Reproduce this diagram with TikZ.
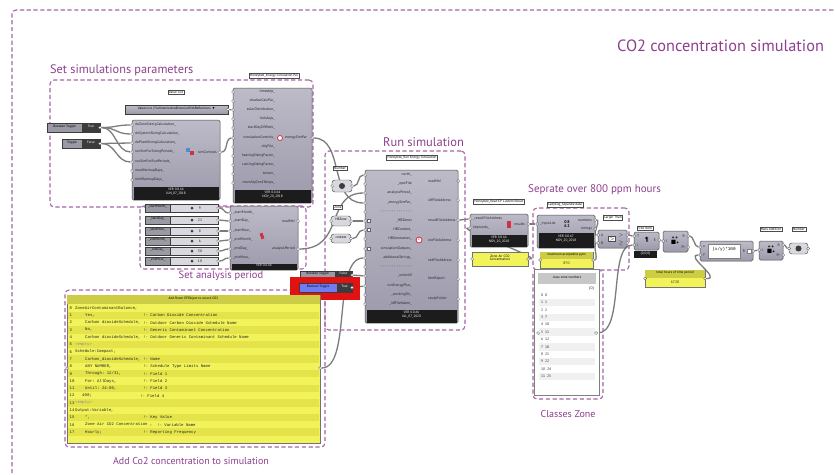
\documentclass[tikz,border=0pt]{standalone}
\usepackage{amssymb}
\usepackage{fontspec}
\setmainfont{PT Sans}
\setmonofont{Liberation Mono}
\usetikzlibrary{fit,calc}
\pgfdeclarelayer{bg}
\pgfsetlayers{bg,main}
\definecolor{grpc}{HTML}{A566A5}
\definecolor{titc}{HTML}{8E3F8E}
\definecolor{bodyt}{HTML}{BDBBC8}
\definecolor{bodyb}{HTML}{9C9AAB}
\definecolor{footc}{HTML}{1C1C1C}
\definecolor{yel}{HTML}{F2F25A}
\definecolor{yels}{HTML}{E4E44A}
\definecolor{yelh}{HTML}{CDCD45}
\definecolor{wirec}{HTML}{7C7C7C}
\definecolor{darkp}{HTML}{3C3C3C}
\definecolor{sldark}{HTML}{9A9AA4}
\definecolor{sllight}{HTML}{D8D8DE}
\definecolor{bluet}{HTML}{6F7CF2}
\definecolor{redb}{HTML}{E31212}
\definecolor{iconr}{HTML}{D03040}
\definecolor{iconb}{HTML}{4A8FD0}
\newcommand{\tyf}{\fontsize{3.7}{4.2}\selectfont}
\newcommand{\tgf}{\fontsize{3.4}{3.9}\selectfont}
\tikzset{
  grp/.style={draw=grpc, line width=1.1pt, dash pattern=on 4.2pt off 2.6pt, rounded corners=4pt, inner sep=0},
  glbl/.style={text=titc, inner sep=0, font=\fontsize{#1}{#1}\selectfont},
  comp/.style={draw=black!70, line width=0.5pt, top color=bodyt, bottom color=bodyb, rounded corners=1.5pt, inner sep=0},
  foot/.style={fill=footc, inner sep=0, text=white, font=\tgf, align=center},
  itx/.style={inner sep=0, font=\tyf, text=black!85},
  port/.style={circle, inner sep=0, minimum size=3pt, fill=white, draw=black!65, line width=0.35pt},
  tagb/.style={draw=black!70, fill=white, line width=0.4pt, inner sep=0.9pt, font=\tgf},
  wire/.style={draw=wirec, line width=1.3pt},
  tglL/.style={draw=darkp, line width=0.4pt, inner sep=0, font=\tgf},
  tglR/.style={fill=darkp, draw=darkp, line width=0.4pt, inner sep=0, font=\tgf, text=white},
  panel/.style={fill=yel, draw=black!55, line width=0.4pt, inner sep=0},
  panelh/.style={fill=yelh, inner sep=0, font=\tgf},
  capsule/.style={draw=black!70, fill=sllight, rounded corners=3pt, line width=0.45pt, inner sep=0, font=\tgf},
  bpt/.style={inner sep=0, font=\ttfamily\fontsize{4}{4.4}\selectfont, text=black!85},
  icn/.style={inner sep=0, minimum size=5pt},
}
\newcommand{\ghinL}[5]{\node[port] (#1-i#2) at (#3,#4) {};\node[itx,anchor=west] (#1-t#2) at (#3+3,#4) {#5};}
\newcommand{\ghinR}[6]{\node[port] (#1-i#2) at (#3,#5) {};\node[itx,anchor=east] (#1-t#2) at (#4,#5) {#6};}
\newcommand{\ghoutL}[5]{\node[port] (#1-o#2) at (#3,#4) {};\node[itx,anchor=east] (#1-u#2) at (#3-3,#4) {#5};}
\newcommand{\ghoutW}[6]{\node[port] (#1-o#2) at (#3,#5) {};\node[itx,anchor=west] (#1-u#2) at (#4,#5) {#6};}
\newcommand{\ghtoggle}[9]{%
  \node[tglL, fill=#9, fit={(#2,#5)(#3,#6)}] (#1-l) {#7};
  \node[tglR, fit={(#3,#5)(#4,#6)}] (#1) {#8};
  \node[port] (#1-o) at (#4,{(#5+#6)/2}) {};}
\newcommand{\ghslider}[4]{%
  \node[tglL, fill=sldark, fit={(145,#2-4)(170,#2+4)}] (#1-l) {#3};
  \node[tglL, fill=sllight, fit={(170,#2-4)(218,#2+4)}] (#1) {};
  \node[itx] (#1-v) at (200,#2) {#4};
  \node[circle, fill=darkp, inner sep=0, minimum size=3pt] (#1-k) at (192,#2) {};
  \node[port] (#1-o) at (218,#2) {};}
\newcommand{\bpl}[5]{%
  \node[bpt, anchor=west] (bp-n#1) at (69.5,{308+7.3*#1}) {#1};
  \node[bpt, anchor=west] (bp-a#1) at (#2,{308+7.3*#1}) {#3};
  \node[bpt, anchor=west] (bp-c#1) at (#4,{308+7.3*#1}) {#5};}
\begin{document}
\begin{tikzpicture}[x=1pt,y=-1pt]
\useasboundingbox (0,0) rectangle (835,474);
\begin{pgfonlayer}{bg}
\fill[white] (0,0) rectangle (835,474);
\end{pgfonlayer}
% outer frame
\draw[grp] (12,480) -- (12,10) -- (845,10);
\node[glbl=16.3, anchor=west] (title) at (617,46) {CO2 concentration simulation};

% groups
\node[grp, fit={(50,80)(313,207)}] (g1) {};
\node[grp, fit={(140,206)(306,269)}] (g2) {};
\node[grp, fit={(325,151)(465,330)}] (g3) {};
\node[grp, fit={(533,208)(629,270)}] (g4) {};
\node[grp, fit={(533,270)(603,399)}] (g5) {};
\node[grp, fit={(65,290)(325,447)}] (g6) {};
\node[glbl=12.3, anchor=west] (l1) at (50,70) {Set simulations parameters};
\node[glbl=10.5] (l2) at (221,276) {Set analysis period};
\node[glbl=12.5, anchor=west] (l3) at (383,142) {Run simulation};
\node[glbl=11, anchor=west] (l4) at (528,190) {Seprate over 800 ppm hours};
\node[glbl=10] (l5) at (568,414) {Classes Zone};
\node[glbl=10] (l6) at (191,461) {Add Co2 concentration to simulation};

% ---- Set simulation parameters
\ghtoggle{bt1}{47}{82}{100}{123}{132}{Boolean Toggle}{True}{sldark}
\ghtoggle{bt2}{62}{82}{100}{139}{148}{Toggle}{False}{sldark}
\node[tagb] (vl-tag) at (176,92) {Value List};
\node[tglL, top color=bodyt, bottom color=sldark, fit={(125,105)(228,114)}] (vl) {Value List | FullInteriorAndExteriorWithReflections \,$\blacktriangledown$};
\node[port] (vl-o) at (228,109.5) {};

\node[comp, fit={(132,120)(220,200)}] (sc) {};
\node[foot, fit={(133.5,187)(218.5,199.5)}] (sc-f) {VER 0.0.64\\JUN\_07\_2018};
\ghinL{sc}{1}{132}{125}{doZoneSizingCalculation\_}
\ghinL{sc}{2}{132}{134}{doSystemSizingCalculation\_}
\ghinL{sc}{3}{132}{143}{doPlantSizingCalculation\_}
\ghinL{sc}{4}{132}{152}{runSimForSizingPeriods\_}
\ghinL{sc}{5}{132}{162}{runSimForRunPeriods\_}
\ghinL{sc}{6}{132}{171}{maxWarmupDays\_}
\ghinL{sc}{7}{132}{180}{minWarmupDays\_}
\ghoutL{sc}{1}{220}{152}{simControls}
\node[icn, fill=iconb, minimum size=4pt] (sc-ic1) at (188,150) {};
\node[icn, fill=iconr, minimum size=4pt] (sc-ic2) at (191.5,153) {};

\node[tagb] (esp-tag) at (274,76) {Honeybee\_Energy Simulation Par};
\node[comp, fit={(233,88)(312,203)}] (esp) {};
\node[foot, fit={(234.5,190)(310.5,202.5)}] (esp-f) {VER 0.0.64\\NOV\_20\_2018};
\ghinR{esp}{1}{233}{275}{92}{timestep\_}
\ghinR{esp}{2}{233}{275}{101}{shadowCalcPar\_}
\ghinR{esp}{3}{233}{275}{110}{solarDistribution\_}
\ghinR{esp}{4}{233}{275}{119}{holidays\_}
\ghinR{esp}{5}{233}{275}{128}{startDayOfWeek\_}
\ghinR{esp}{6}{233}{275}{138}{simulationControls\_}
\ghinR{esp}{7}{233}{275}{147}{ddyFile\_}
\ghinR{esp}{8}{233}{275}{156}{heatingSizingFactor\_}
\ghinR{esp}{9}{233}{275}{165}{coolingSizingFactor\_}
\ghinR{esp}{10}{233}{275}{174}{terrain\_}
\ghinR{esp}{11}{233}{275}{183}{monthlyGrndTemps\_}
\node[circle, draw=iconr, fill=white, line width=0.8pt, inner sep=0, minimum size=5pt] (esp-ic) at (280,138) {};
\ghoutW{esp}{1}{312}{285}{138}{energySimPar}

% ---- analysis period
\ghslider{s1}{208}{\_startMonth\_}{9}
\ghslider{s2}{220}{\_startDay\_}{21}
\ghslider{s3}{231}{\_startHour\_}{8}
\ghslider{s4}{241}{\_endMonth\_}{6}
\ghslider{s5}{251}{\_endDay\_}{30}
\ghslider{s6}{261}{\_endHour\_}{18}
\node[comp, fit={(230,206)(298,270)}] (ap) {};
\node[foot, fit={(231.5,264)(296.5,270)}] (ap-f) {VER 0.0.64};
\ghinL{ap}{1}{230}{213}{\_startMonth\_}
\ghinL{ap}{2}{230}{221}{\_startDay\_}
\ghinL{ap}{3}{230}{231}{\_startHour\_}
\ghinL{ap}{4}{230}{240}{\_endMonth\_}
\ghinL{ap}{5}{230}{249}{\_endDay\_}
\ghinL{ap}{6}{230}{258}{\_endHour\_}
\ghoutL{ap}{1}{298}{221}{readMe!}
\ghoutL{ap}{2}{298}{249}{analysisPeriod}
\node[icn, fill=iconr, minimum width=3pt, minimum height=6pt, rotate=20] (ap-ic) at (262,236) {};

% ---- run simulation
\node[tagb] (num1-tag) at (340,168) {Number};
\node[capsule, fit={(332,180)(352,192)}] (num1) {};
\node[circle, fill=darkp, inner sep=0, minimum size=6pt] (num1-ic) at (342,186) {};
\node[port] (num1-o) at (352,186) {};
\node[port] (num1-i) at (332,186) {};
\node[tagb] (hbz-tag) at (338,207) {Zone};
\node[capsule, fit={(331,216)(351,226)}] (hbz) {HBZone};
\node[port] (hbz-o) at (351,221) {};
\node[port] (hbz-i) at (331,221) {};
\node[capsule, fit={(331,234)(351,243)}] (ctx) {context};
\node[port] (ctx-o) at (351,238.5) {};
\node[port] (ctx-i) at (331,238.5) {};
\ghtoggle{bt3}{300}{335}{352}{271}{279}{Boolean Toggle}{False}{sldark}
\node[fill=redb, fit={(293,280)(357,297)}] (redbox) {};
\ghtoggle{bt4}{299}{337}{352}{283}{292}{Boolean Toggle}{True}{bluet}

\node[tagb] (rs-tag) at (412,158) {Honeybee\_Run Energy Simulation};
\node[comp, fit={(365,170)(458,323)}] (rs) {};
\node[foot, fit={(366.5,310)(456.5,322.5)}] (rs-f) {VER 0.0.66\\JUL\_07\_2020};
\ghinR{rs}{1}{365}{412}{175}{north\_}
\ghinR{rs}{2}{365}{412}{184}{\_epwFile}
\ghinR{rs}{3}{365}{412}{193}{analysisPeriod\_}
\ghinR{rs}{4}{365}{412}{203}{\_energySimPar\_}
\ghinR{rs}{5}{365}{412}{212}{- - - - - - - - - - - - - -}
\ghinR{rs}{6}{365}{412}{221}{\_HBZones}
\ghinR{rs}{7}{365}{412}{230}{HBContext\_}
\ghinR{rs}{8}{365}{412}{239}{HBGenerators\_}
\ghinR{rs}{9}{365}{412}{249}{simulationOutputs\_}
\ghinR{rs}{10}{365}{412}{258}{additionalStrings\_}
\ghinR{rs}{11}{365}{412}{267}{- - - - - - - - - - - - - -}
\ghinR{rs}{12}{365}{412}{276}{\_writeIdf}
\ghinR{rs}{13}{365}{412}{286}{runEnergyPlus\_}
\ghinR{rs}{14}{365}{412}{295}{\_workingDir\_}
\ghinR{rs}{15}{365}{412}{304}{\_idfFileName\_}
\node[draw=black!60, fill=white, inner sep=0, minimum size=3pt] (rs-fl1) at (368.5,221) {};
\node[draw=black!60, fill=white, inner sep=0, minimum size=3pt] (rs-fl2) at (368.5,230) {};
\node[draw=black!60, fill=white, inner sep=0, minimum size=3pt] (rs-fl3) at (368.5,249) {};
\node[circle, draw=iconr, fill=white, line width=0.8pt, inner sep=0, minimum size=6pt, text=iconr, font=\tgf] (rs-ic) at (419,240) {e};
\ghoutW{rs}{1}{458}{428}{181}{readMe!}
\ghoutW{rs}{2}{458}{428}{200}{idfFileAddress}
\ghoutW{rs}{3}{458}{428}{220}{resultFileAddress}
\ghoutW{rs}{4}{458}{428}{240}{eioFileAddress}
\ghoutW{rs}{5}{458}{428}{260}{rddFileAddress}
\ghoutW{rs}{6}{458}{428}{279}{htmReport}
\ghoutW{rs}{7}{458}{428}{299}{studyFolder}

% ---- read results
\node[tagb] (rd-tag) at (499,202) {Honeybee\_Read EP Custom Result};
\node[comp, fit={(470,214)(528,247)}] (rd) {};
\node[foot, fit={(471.5,235)(526.5,246.5)}] (rd-f) {VER 0.0.64\\NOV\_20\_2018};
\ghinL{rd}{1}{470}{219}{\_resultFileAddress}
\ghinL{rd}{2}{470}{228}{keywords\_}
\node[icn, fill=iconr, minimum width=4pt, minimum height=7pt] (rd-ic) at (509,224) {};
\ghoutL{rd}{1}{528}{224}{results}
\node[panel, fit={(472,252)(528,266)}, font=\tgf, align=center] (pz) {Zone Air CO2\\Concentration};
\node[port] (pz-i) at (472,259) {};
\node[port] (pz-o) at (528,259) {};

% ---- separate
\node[tagb] (sd-tag) at (565,205) {Ladybug\_Separate data};
\node[comp, fit={(537,215)(595,248)}] (sd) {};
\node[foot, fit={(538.5,233)(593.5,247.5)}] (sd-f) {VER 0.0.67\\NOV\_20\_2018};
\ghinL{sd}{1}{537}{224}{\_inputList}
\node[inner sep=0, font=\bfseries\fontsize{4}{4}\selectfont, align=center] (sd-ic) at (567,224) {0\,8\\6\,2};
\ghoutL{sd}{1}{595}{220}{numbers}
\ghoutL{sd}{2}{595}{229}{strings}
\node[panel, fit={(540,252)(593,268)}] (pm) {};
\node[panelh, fit={(540.3,252.3)(592.7,259)}] (pm-h) {maximum acceptable ppm};
\node[itx] (pm-v) at (566.5,263.5) {870};
\node[port] (pm-o) at (593,260) {};
\node[port] (pm-i) at (540,260) {};

\node[tagb] (lt-tag) at (613,218) {Larger Than};
\node[comp, fit={(598,230)(627,248)}] (lt) {};
\node[draw=black!70, fill=white, inner sep=0.6pt, font=\bfseries\fontsize{5}{5}\selectfont] (lt-ic) at (612,239) {$>$};
\ghinL{lt}{1}{598}{235}{A}
\ghinL{lt}{2}{598}{243}{B}
\ghoutL{lt}{1}{627}{235}{$>$}
\ghoutL{lt}{2}{627}{243}{$\geq$}

% ---- classes zone panel
\node[fill=white, draw=black!50, line width=0.5pt, fit={(538,273)(596,392)}] (pc) {};
\node[fill=black!22, inner sep=0, font=\tgf, fit={(538.3,273.3)(595.7,284)}] (pc-h) {class zone numbers};
\node[itx, anchor=east] (pc-b) at (594,289) {\{0\}};
\foreach \k/\v in {0/0,1/1,2/2,3/7,4/10,5/11,6/12,7/18,8/21,9/22,10/24,11/25}{
  \ifodd\k\fill[black!6] (539,{295+7.4*\k-3.7}) rectangle (595,{295+7.4*\k+3.7});\fi
  \node[itx, anchor=west] (pc-k\k) at (541,{295+7.4*\k}) {\k\ \ \v};
}
\node[port] (pc-o) at (596,333) {};
\node[port] (pc-i) at (538,333) {};

% ---- right chain
\node[tagb] (ti-tag) at (645,228) {Tree Item};
\node[comp, fit={(634,232)(659,250)}] (ti) {};
\node[inner sep=0, font=\bfseries\fontsize{6}{6}\selectfont] (ti-ic) at (647,240) {\P};
\ghinL{ti}{1}{634}{236}{T}
\ghinL{ti}{2}{634}{245}{i}
\ghoutL{ti}{1}{659}{240}{E}
\node[foot, fit={(634,251)(657,258)}] (ti-f) {\{0;0;0\}};

\node[comp, fit={(663,231)(688,252)}] (ma1) {};
\node[inner sep=0, font=\bfseries\fontsize{5}{5}\selectfont, align=center] (ma1-ic) at (675,241) {+\,+\\$\blacksquare$+};
\ghinL{ma1}{1}{663}{241}{I}
\ghoutL{ma1}{1}{688}{236}{R}
\ghoutL{ma1}{2}{688}{247}{Pr}

\node[comp, fit={(700,241)(753,261)}] (ex) {};
\node[fill=white, draw=black!50, inner sep=0, font=\ttfamily\fontsize{4.3}{4.3}\selectfont, fit={(708,244)(740,258)}] (ex-b) {(x/y)*100};
\ghinL{ex}{1}{700}{247}{x}
\ghinL{ex}{2}{700}{255}{y}
\node[draw=black!50, fill=white, inner sep=0, minimum size=4pt] (ex-ic) at (749,251) {};
\node[port] (ex-o1) at (753,251) {};
\node[itx] (ex-r) at (744,251) {R};

\node[tagb] (ma2-tag) at (771,229) {Mass Addition};
\node[comp, fit={(759,241)(783,260)}] (ma2) {};
\node[inner sep=0, font=\bfseries\fontsize{5}{5}\selectfont, align=center] (ma2-ic) at (771,250) {+\,+\\$\blacksquare$+};
\ghinL{ma2}{1}{759}{250}{I}
\ghoutL{ma2}{1}{783}{245}{R}
\ghoutL{ma2}{2}{783}{255}{Pr}

\node[tagb] (nm-tag) at (799,229) {Number};
\node[capsule, fit={(789,243)(808,254)}] (nm) {};
\node[circle, fill=darkp, inner sep=0, minimum size=6pt] (nm-ic) at (798.5,248.5) {};
\node[port] (nm-i) at (789,248.5) {};
\node[port] (nm-o) at (808,248.5) {};

\node[panel, fit={(645,270)(705,287)}] (pt) {};
\node[panelh, fit={(645.3,270.3)(704.7,278)}] (pt-h) {total hours of time period};
\node[itx] (pt-v) at (675,282.5) {6720};
\node[port] (pt-i) at (645,278.5) {};
\node[port] (pt-o) at (705,278.5) {};

% ---- big yellow panel
\node[panel, fit={(67,295)(320,443)}] (bp) {};
\node[panelh, fit={(67.3,295.3)(319.7,304)}] (bp-h) {Add Room EPObject to record CO2};
\foreach \k in {1,3,5,7,9,11,13,15,17}{
  \fill[yels] (68,{308+7.3*\k-3.65}) rectangle (319,{308+7.3*\k+3.65});
}
\bpl{0}{75}{ZoneAirContaminantBalance,}{143}{}
\bpl{1}{85}{Yes,}{143}{!- Carbon Dioxide Concentration}
\bpl{2}{85}{Carbon dioxideSchedule,}{143}{!- Outdoor Carbon Dioxide Schedule Name}
\bpl{3}{85}{No,}{143}{!- Generic Contaminant Concentration}
\bpl{4}{85}{Carbon dioxideSchedule,}{143}{!- Outdoor Generic Contaminant Schedule Name}
\bpl{5}{75}{\textcolor{black!45}{<empty>}}{143}{}
\bpl{6}{75}{Schedule:Compact,}{143}{}
\bpl{7}{85}{Carbon\_dioxideSchedule,}{143}{!- Name}
\bpl{8}{85}{ANY NUMBER,}{143}{!- Schedule Type Limits Name}
\bpl{9}{85}{Through: 12/31,}{143}{!- Field 1}
\bpl{10}{85}{For: AllDays,}{143}{!- Field 2}
\bpl{11}{85}{Until: 24:00,}{143}{!- Field 3}
\bpl{12}{82}{400;}{140}{!- Field 4}
\bpl{13}{75}{\textcolor{black!45}{<empty>}}{143}{}
\bpl{14}{75}{Output:Variable,}{143}{}
\bpl{15}{85}{*,}{143}{!- Key Value}
\bpl{16}{85}{Zone Air CO2 Concentration ,}{157}{!- Variable Name}
\bpl{17}{85}{Hourly;}{143}{!- Reporting Frequency}
\node[port] (bp-i) at (67,368) {};
\node[port] (bp-o) at (320,368) {};

% ---- wires
\begin{pgfonlayer}{bg}
\draw[wire] (bt1-o) .. controls +(16,0) and +(-16,0) .. (sc-i1);
\draw[wire] (bt1-o) .. controls +(16,0) and +(-16,0) .. (sc-i2);
\draw[wire] (bt1-o) .. controls +(16,0) and +(-16,0) .. (sc-i4);
\draw[wire] (bt2-o) .. controls +(16,0) and +(-16,0) .. (sc-i3);
\draw[wire] (bt2-o) .. controls +(16,0) and +(-16,0) .. (sc-i5);
\draw[wire] (vl-o) -- (esp-i3);
\draw[wire] (sc-o1) .. controls +(8,0) and +(-8,0) .. (esp-i6);
\draw[wire] (esp-o1) .. controls (345,138) and (328,203) .. (rs-i4);
\draw[wire] (ap-o2) .. controls (345,249) and (325,193) .. (rs-i3);
\draw[wire] (num1-o) .. controls +(8,0) and +(-8,0) .. (rs-i1);
\draw[wire] (hbz-o) -- (rs-i6);
\draw[wire] (ctx-o) .. controls +(8,0) and +(-8,0) .. (rs-i7);
\draw[wire] (bt3-o) -- (rs-i12);
\draw[wire] (bt4-o) -- (rs-i13);
\draw[wire] (bp-o) .. controls (352,368) and (332,258) .. (rs-i10);
\foreach \k in {1,...,6}{\draw[wire] (s\k-o) .. controls +(6,0) and +(-6,0) .. (ap-i\k);}
\draw[wire] (rs-o3) .. controls +(6,0) and +(-6,0) .. (rd-i1);
\draw[wire] (pz-o) .. controls (545,259) and (455,228) .. (rd-i2);
\draw[wire] (rd-o1) -- (sd-i1);
\draw[wire] (sd-o1) .. controls +(6,0) and +(-6,0) .. (lt-i1);
\draw[wire] (pm-o) .. controls +(6,0) and +(-6,0) .. (lt-i2);
\draw[wire] (lt-o1) .. controls +(5,0) and +(-5,0) .. (ti-i1);
\draw[wire] (pc-o) .. controls (625,333) and (608,245) .. (ti-i2);
\draw[wire] (ti-o1) -- (ma1-i1);
\draw[wire] (ma1-o1) .. controls +(6,0) and +(-6,0) .. (ex-i1);
\draw[wire] (pt-o) .. controls (722,279) and (684,255) .. (ex-i2);
\draw[wire] (ex-o1) -- (ma2-i1);
\draw[wire] (ma2-o1) .. controls +(3,0) and +(-3,0) .. (nm-i);
\end{pgfonlayer}
\end{tikzpicture}
\end{document}
